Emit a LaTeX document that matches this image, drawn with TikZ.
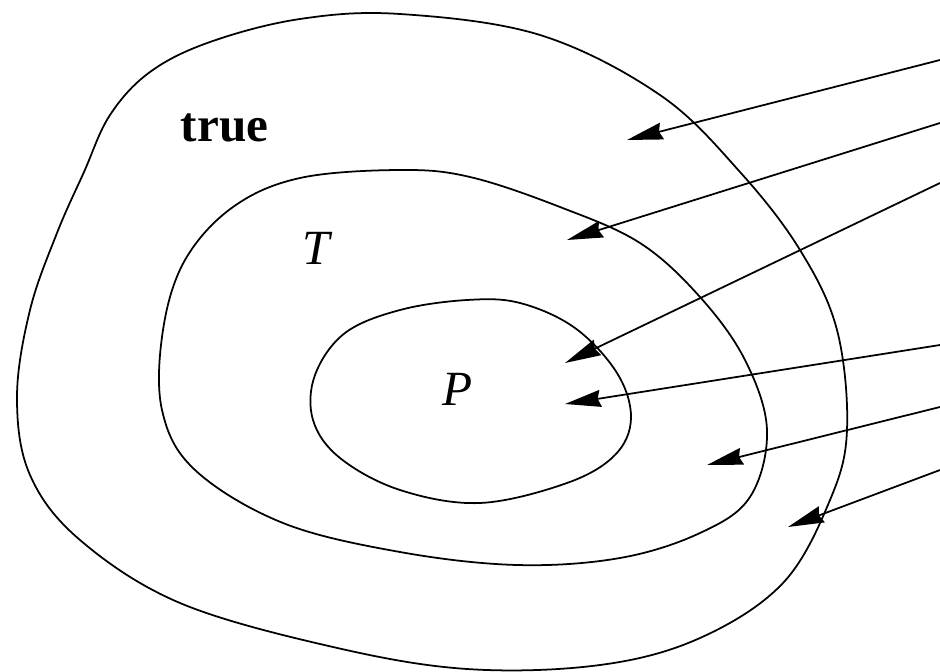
\documentclass[tikz,border=0pt]{standalone}
\usepackage{fontspec}
\setmainfont{Liberation Serif}
\usetikzlibrary{arrows.meta}

\begin{document}
\begin{tikzpicture}[x=0.02cm,y=-0.02cm,line width=1pt]
  \def\W{940}
  \def\H{672}
  \tikzset{
    region/.style={smooth cycle, tension=0.6},
    lbl/.style={anchor=base, inner sep=0pt, font=\fontsize{28}{32}\selectfont},
    ray/.style={-{Stealth[length=0.72cm,width=0.34cm,inset=0.06cm]}}
  }
  \useasboundingbox (0,0) rectangle (\W,\H);

  %Outer region (true)
  \draw plot[region] coordinates {(400,14) (300,19) (210,42) (150,72)
    (110,115) (84,172) (57,233) (30,310) (17,397) (30,475) (80,540)
    (180,603) (333,647) (467,669) (600,665) (700,638) (783,583) (830,500)
    (847,430) (837,330) (800,250) (740,172) (660,95) (540,35)};
  %Middle region (T)
  \draw plot[region] coordinates {(400,170) (300,178) (233,207) (185,260)
    (163,330) (162,410) (195,470) (283,523) (400,552) (517,565) (620,558)
    (700,533) (750,497) (767,430) (745,360) (700,297) (640,243) (560,207)
    (470,177)};
  %Inner region (P)
  \draw plot[region] coordinates {(467,300) (400,310) (345,333) (315,375)
    (313,420) (340,458) (400,490) (480,503) (567,483) (615,455) (631,418)
    (617,373) (575,328) (520,303)};

  %Labels
  \node[lbl, anchor=base west, font=\fontsize{28}{32}\selectfont\bfseries] (true) at (180,142) {true};
  \node[lbl] (T) at (318,265) {\textit{T}};
  \node[lbl] (P) at (458,405) {\textit{P}};

  %Arrows coming in from the right
  \foreach \i/\sy/\tx/\ty in {1/60/627/140, 2/123/567/240, 3/183/565/363,
    4/345/565/404, 5/407/707/465, 6/470/788/527}
  {
    \coordinate (s\i) at (\W,\sy);
    \coordinate (t\i) at (\tx,\ty);
    \draw[ray] (s\i) -- (t\i);
  }
\end{tikzpicture}
\end{document}
